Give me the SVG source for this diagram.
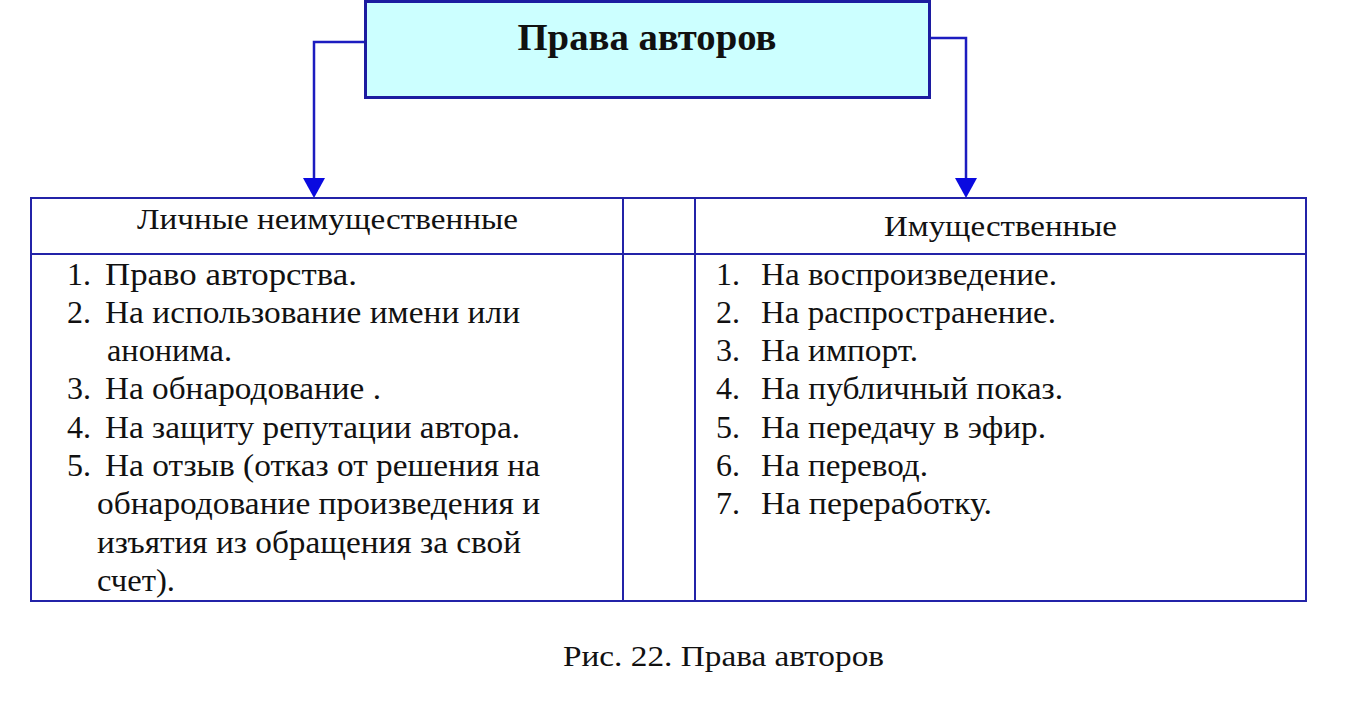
<svg xmlns="http://www.w3.org/2000/svg" width="1366" height="708" viewBox="0 0 1366 708">
<style>
  .t { font-family: "Liberation Serif", "Times New Roman", serif; fill: #111; }
  .item { font-size: 32px; }
  .hdr { font-size: 29px; }
  .line { stroke: #2323a8; stroke-width: 2; fill: none; }
  .conn { stroke: #1c1cc0; stroke-width: 2.5; fill: none; }
</style>
<rect width="1366" height="708" fill="#ffffff"/>

<g id="connectors">
  <path class="conn" d="M365,42 H314 V178"/>
  <polygon points="303,178 325,178 314,198" fill="#0a0ae0"/>
  <path class="conn" d="M930,38 H966 V178"/>
  <polygon points="955,178 977,178 966,198" fill="#0a0ae0"/>
</g>

<g id="title">
  <rect x="365.5" y="1.5" width="564" height="96" fill="#ccffff" stroke="#1c1ca0" stroke-width="3"/>
  <text class="t" x="647" y="50" font-size="38" font-weight="bold" text-anchor="middle" textLength="259" lengthAdjust="spacingAndGlyphs">Права авторов</text>
</g>

<g id="table">
  <rect class="line" x="31" y="198" width="1275" height="403"/>
  <line class="line" x1="31" y1="254" x2="1306" y2="254"/>
  <line class="line" x1="623" y1="198" x2="623" y2="601"/>
  <line class="line" x1="695" y1="198" x2="695" y2="601"/>
</g>

<g id="personal">
  <text class="t hdr" x="137" y="229" textLength="381" lengthAdjust="spacingAndGlyphs">Личные неимущественные</text>
  <g class="t item">
    <text x="67" y="285">1.</text><text x="105" y="285" textLength="252" lengthAdjust="spacingAndGlyphs">Право авторства.</text>
    <text x="67" y="323">2.</text><text x="105" y="323" textLength="415" lengthAdjust="spacingAndGlyphs">На использование имени или</text>
    <text x="107" y="361" textLength="125" lengthAdjust="spacingAndGlyphs">анонима.</text>
    <text x="67" y="399">3.</text><text x="105" y="399" textLength="276" lengthAdjust="spacingAndGlyphs">На обнародование .</text>
    <text x="67" y="438">4.</text><text x="105" y="438" textLength="415" lengthAdjust="spacingAndGlyphs">На защиту репутации автора.</text>
    <text x="67" y="476">5.</text><text x="105" y="476" textLength="435" lengthAdjust="spacingAndGlyphs">На отзыв (отказ от решения на</text>
    <text x="97" y="514" textLength="443" lengthAdjust="spacingAndGlyphs">обнародование произведения и</text>
    <text x="97" y="553" textLength="424" lengthAdjust="spacingAndGlyphs">изъятия из обращения за свой</text>
    <text x="97" y="591" textLength="78" lengthAdjust="spacingAndGlyphs">счет).</text>
  </g>
</g>

<g id="property">
  <text class="t hdr" x="884" y="236" textLength="233" lengthAdjust="spacingAndGlyphs">Имущественные</text>
  <g class="t item">
    <text x="716" y="285">1.</text><text x="761" y="285" textLength="296" lengthAdjust="spacingAndGlyphs">На воспроизведение.</text>
    <text x="716" y="323">2.</text><text x="761" y="323" textLength="295" lengthAdjust="spacingAndGlyphs">На распространение.</text>
    <text x="716" y="361">3.</text><text x="761" y="361" textLength="157" lengthAdjust="spacingAndGlyphs">На импорт.</text>
    <text x="716" y="399">4.</text><text x="761" y="399" textLength="302" lengthAdjust="spacingAndGlyphs">На публичный показ.</text>
    <text x="716" y="438">5.</text><text x="761" y="438" textLength="285" lengthAdjust="spacingAndGlyphs">На передачу в эфир.</text>
    <text x="716" y="476">6.</text><text x="761" y="476" textLength="167" lengthAdjust="spacingAndGlyphs">На перевод.</text>
    <text x="716" y="514">7.</text><text x="761" y="514" textLength="231" lengthAdjust="spacingAndGlyphs">На переработку.</text>
  </g>
</g>

<g id="caption">
  <text class="t" x="563" y="666" font-size="30" textLength="321" lengthAdjust="spacingAndGlyphs">Рис. 22. Права авторов</text>
</g>
</svg>
